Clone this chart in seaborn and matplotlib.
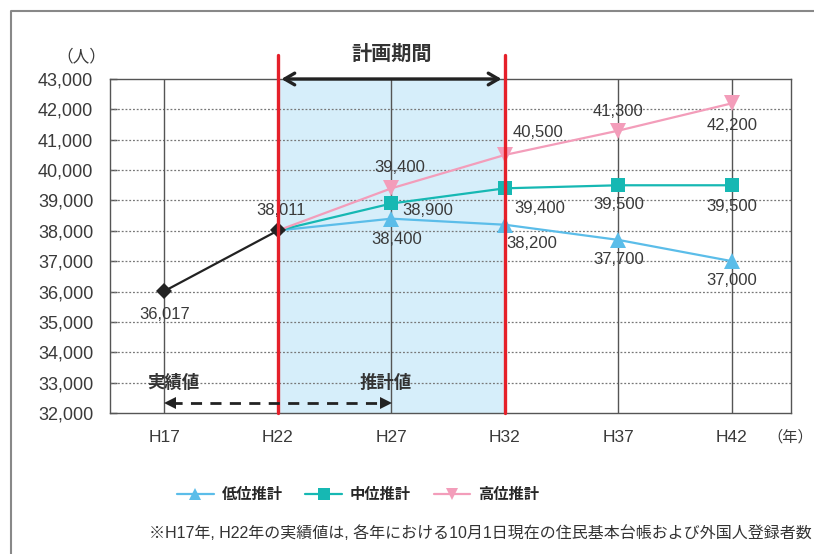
import numpy as np
import pandas as pd
import seaborn as sns
import matplotlib.pyplot as plt
from matplotlib.lines import Line2D

years = ["H17", "H22", "H27", "H32", "H37", "H42"]
actual = [36017, 38011]
low = [38011, 38400, 38200, 37700, 37000]
mid = [38011, 38900, 39400, 39500, 39500]
high = [38011, 39400, 40500, 41300, 42200]
names = ["低位推計", "中位推計", "高位推計"]
yticks = list(range(32000, 43001, 1000))

# label offsets (pixels)
off_actual = [(0, -23), (3, 20)]
off_high = [(8, 21), (33, 22), (0, 19), (0, -22)]
off_mid = [(36, -7), (35, -20), (0, -19), (0, -21)]
off_low = [(5, -21), (27, -19), (0, -20), (0, -19)]

sns.set_theme(style="white")
plt.rcParams["font.family"] = ["Liberation Sans", "Noto Sans CJK JP", "DejaVu Sans"]

txt = "#3a3a3a"
c_low, c_mid, c_high = "#5bbde9", "#16b8b3", "#f39dba"

fig = plt.figure(figsize=(8.14, 5.54), dpi=100)
ax = fig.add_axes([110 / 814, 1 - 413 / 554, 681 / 814, 334 / 554])

# planning period shading
ax.axvspan(1, 3, color="#d6eefa", zorder=0)

xa = np.arange(len(actual))
xp = np.arange(1, len(years))
every = list(range(1, len(xp)))
sns.lineplot(x=xa, y=actual, color="#222222", marker="D", markersize=8,
             markeredgewidth=0, linewidth=1.6, ax=ax, zorder=5)
series = [(low, c_low, "^", 11), (mid, c_mid, "s", 10), (high, c_high, "v", 11)]
for vals, c, m, ms in series:
    sns.lineplot(x=xp, y=vals, color=c, marker=m, markersize=ms, markevery=every,
                 markeredgewidth=0, linewidth=1.6, ax=ax, zorder=4)

def lab(xs, vals, offs):
    for x, v, o in zip(xs, vals, offs):
        ax.annotate(f"{v:,}", (x, v), xytext=o, textcoords="offset pixels",
                    ha="center", va="center", fontsize=12, color=txt, zorder=6)

lab(xa, actual, off_actual)
lab(xp[1:], high[1:], off_high)
lab(xp[1:], mid[1:], off_mid)
lab(xp[1:], low[1:], off_low)

ax.set_xlim(-0.48, 5.52)
ax.set_ylim(32000, 43000)
ax.set_xticks(range(len(years)), years)
ax.set_yticks(yticks, [f"{v:,}" for v in yticks])
ax.tick_params(axis="x", length=0, pad=12, labelsize=12.5, labelcolor=txt)
ax.tick_params(axis="y", direction="in", length=5, width=1, color="#555555",
               pad=12, labelsize=13, labelcolor=txt, left=True)

for v in yticks[1:-1]:
    ax.axhline(v, color="#777777", lw=0.9, ls=(0, (1.5, 1.5)), zorder=1)
for i in range(len(years)):
    ax.axvline(i, color="#555555", lw=1, zorder=1)
for s in ax.spines.values():
    s.set_color("#555555")
    s.set_linewidth(1)
ax.set_xlabel("")
ax.set_ylabel("")

# red period bounds
for xv in (1, 3):
    ax.plot([xv, xv], [32000, 43790], color="#e5202a", lw=2.4, clip_on=False, zorder=7)

ax.annotate("", xy=(1.03, 43000), xytext=(2.97, 43000),
            arrowprops=dict(arrowstyle="<->,head_length=0.6,head_width=0.35",
                            lw=2.4, color="#222222", shrinkA=0, shrinkB=0),
            annotation_clip=False, zorder=8)
ax.text(2, 43800, "計画期間", ha="center", va="center", fontsize=14.5,
        fontweight="bold", color="#333333")

# actual / estimate arrow
ax.plot([0.06, 1.94], [32330, 32330], color="#222222", lw=2, ls=(0, (4, 3)), zorder=7)
ax.plot([0.05], [32330], marker="<", ms=9, color="#222222", mew=0, zorder=7)
ax.plot([1.95], [32330], marker=">", ms=9, color="#222222", mew=0, zorder=7)
ax.text(0.08, 33000, "実績値", ha="center", va="center", fontsize=12.5,
        fontweight="bold", color="#333333", zorder=7)
ax.text(1.95, 33000, "推計値", ha="center", va="center", fontsize=12.5,
        fontweight="bold", color="#333333", zorder=7)

fig.text(81 / 814, 1 - 56 / 554, "（人）", ha="center", va="center", fontsize=12, color=txt)
fig.text(790 / 814, 1 - 437 / 554, "（年）", ha="center", va="center", fontsize=11, color=txt)

handles = [Line2D([], [], color=c, marker=m, markersize=9, markeredgewidth=0, lw=1.6)
           for _, c, m, _ in series]
ax.legend(handles, names, loc="center", bbox_to_anchor=(358 / 814, 1 - 495 / 554),
          bbox_transform=fig.transFigure, ncol=3, frameon=False,
          handlelength=2.4, handletextpad=0.5, columnspacing=1.5,
          prop={"size": 11, "weight": "bold"})

fig.text(812 / 814, 1 - 533 / 554,
         "※H17年, H22年の実績値は, 各年における10月1日現在の住民基本台帳および外国人登録者数",
         ha="right", va="center", fontsize=11.5, color="#333333")

# outer frame
fig.add_artist(Line2D([11 / 814, 11 / 814, 1], [0, 1 - 11 / 554, 1 - 11 / 554],
                      transform=fig.transFigure, color="#888888", lw=1.5))

fig.savefig("out.png", dpi=100)
